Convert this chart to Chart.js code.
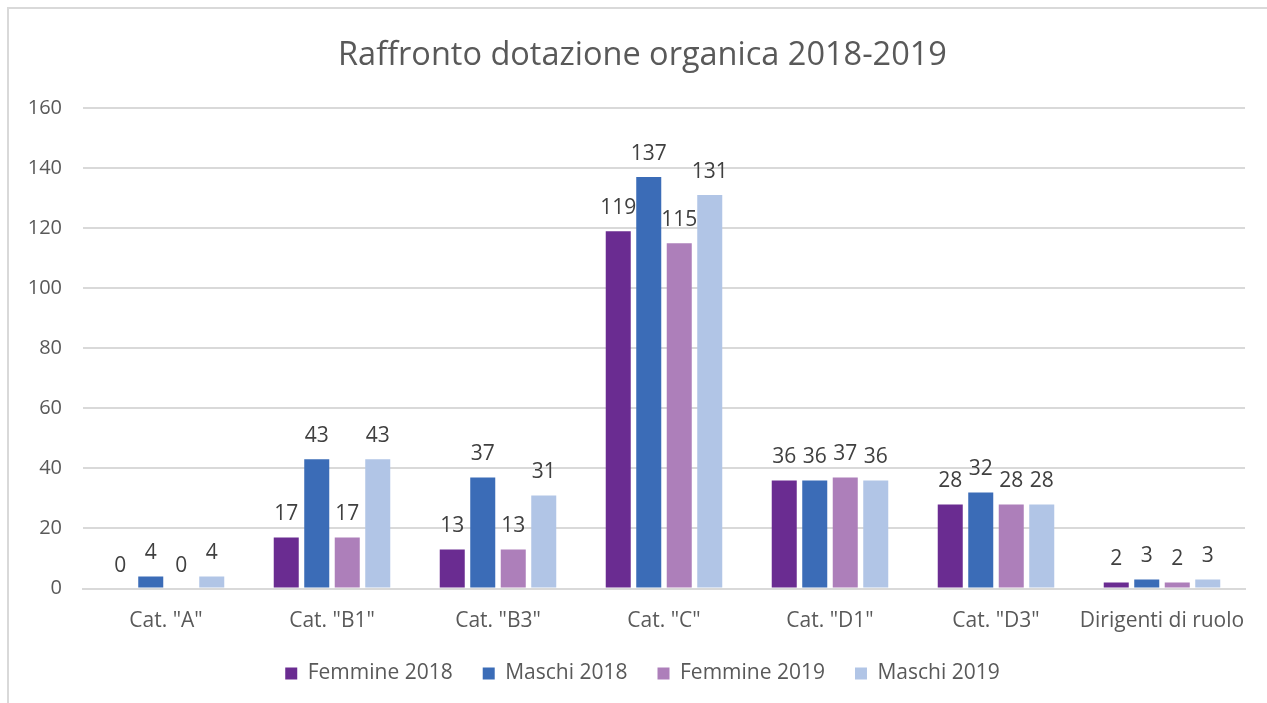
<!DOCTYPE html>
<html>
<head>
<meta charset="utf-8">
<script src="https://cdn.jsdelivr.net/npm/chart.js@4/dist/chart.umd.min.js"></script>
<style>
  html, body { margin: 0; padding: 0; background: #fff; }
  #wrap { position: relative; width: 1267px; height: 703px; overflow: hidden; }
  #frame { position: absolute; left: 7px; top: 7px; width: 1400px; height: 800px; border: 2px solid #d9d9d9; box-sizing: border-box; }
  canvas { position: absolute; left: 0; top: 0; }
</style>
</head>
<body>
<div id="wrap">
  <div id="frame"></div>
  <canvas id="c" width="1267" height="703"></canvas>
</div>
<script>
const categories = ['Cat. "A"', 'Cat. "B1"', 'Cat. "B3"', 'Cat. "C"', 'Cat. "D1"', 'Cat. "D3"', 'Dirigenti di ruolo'];
const femmine2018 = [0, 17, 13, 119, 36, 28, 2];
const maschi2018 = [4, 43, 37, 137, 36, 32, 3];
const femmine2019 = [0, 17, 13, 115, 37, 28, 2];
const maschi2019 = [4, 43, 31, 131, 36, 28, 3];
const yTicks = [0, 20, 40, 60, 80, 100, 120, 140, 160];

const FONT = '"Open Sans", "DejaVu Sans", sans-serif';
const TEXT = '#595959';

const valueLabels = {
  id: 'valueLabels',
  afterDatasetsDraw(chart) {
    const ctx = chart.ctx;
    ctx.save();
    ctx.font = '21px ' + FONT;
    ctx.fillStyle = '#404040';
    ctx.textAlign = 'center';
    ctx.textBaseline = 'alphabetic';
    chart.data.datasets.forEach((ds, i) => {
      const meta = chart.getDatasetMeta(i);
      meta.data.forEach((el, j) => {
        ctx.fillText(String(ds.data[j]), el.x, el.y - 17);
      });
    });
    ctx.restore();
  }
};

// y-axis tick labels drawn from the library's y scale (not clipped to the axis box)
const yLabels = {
  id: 'yLabels',
  afterDraw(chart) {
    const ctx = chart.ctx;
    const y = chart.scales.y;
    ctx.save();
    ctx.font = '20px ' + FONT;
    ctx.fillStyle = TEXT;
    ctx.textAlign = 'right';
    ctx.textBaseline = 'middle';
    yTicks.forEach(v => {
      ctx.fillText(String(v), y.right - 21, y.getPixelForValue(v));
    });
    ctx.restore();
  }
};

new Chart(document.getElementById('c'), {
  type: 'bar',
  data: {
    labels: categories,
    datasets: [
      { label: 'Femmine 2018', data: femmine2018, backgroundColor: '#6a2c91' },
      { label: 'Maschi 2018', data: maschi2018, backgroundColor: '#3b6cb7' },
      { label: 'Femmine 2019', data: femmine2019, backgroundColor: '#ad7fba' },
      { label: 'Maschi 2019', data: maschi2019, backgroundColor: '#b1c5e6' }
    ]
  },
  options: {
    responsive: false,
    animation: false,
    devicePixelRatio: 1,
    layout: { padding: { left: 40, right: 22, top: 36, bottom: 9 } },
    datasets: { bar: { categoryPercentage: 0.735, barPercentage: 0.82 } },
    plugins: {
      title: {
        display: true,
        text: 'Raffronto dotazione organica 2018-2019',
        color: TEXT,
        font: { family: FONT, size: 32.5, weight: 'normal' },
        padding: { top: 0, bottom: 33 }
      },
      legend: {
        position: 'bottom',
        labels: {
          color: TEXT,
          font: { family: FONT, size: 21 },
          boxWidth: 12,
          boxHeight: 12,
          padding: 30
        }
      },
      tooltip: { enabled: false }
    },
    scales: {
      x: {
        grid: { display: false, drawTicks: false },
        border: { display: true, color: '#d9d9d9', width: 2 },
        ticks: { color: TEXT, font: { family: FONT, size: 21 }, padding: 20, maxRotation: 0, autoSkip: false },
        afterFit(axis) { axis.height = 44.5; }
      },
      y: {
        min: 0,
        max: 160,
        afterBuildTicks(axis) { axis.ticks = yTicks.map(v => ({ value: v })); },
        afterFit(axis) { axis.width = 43; },
        grid: { color: '#d9d9d9', lineWidth: 2, drawTicks: false },
        border: { display: false },
        ticks: { display: false }
      }
    }
  },
  plugins: [valueLabels, yLabels]
});
</script>
</body>
</html>
